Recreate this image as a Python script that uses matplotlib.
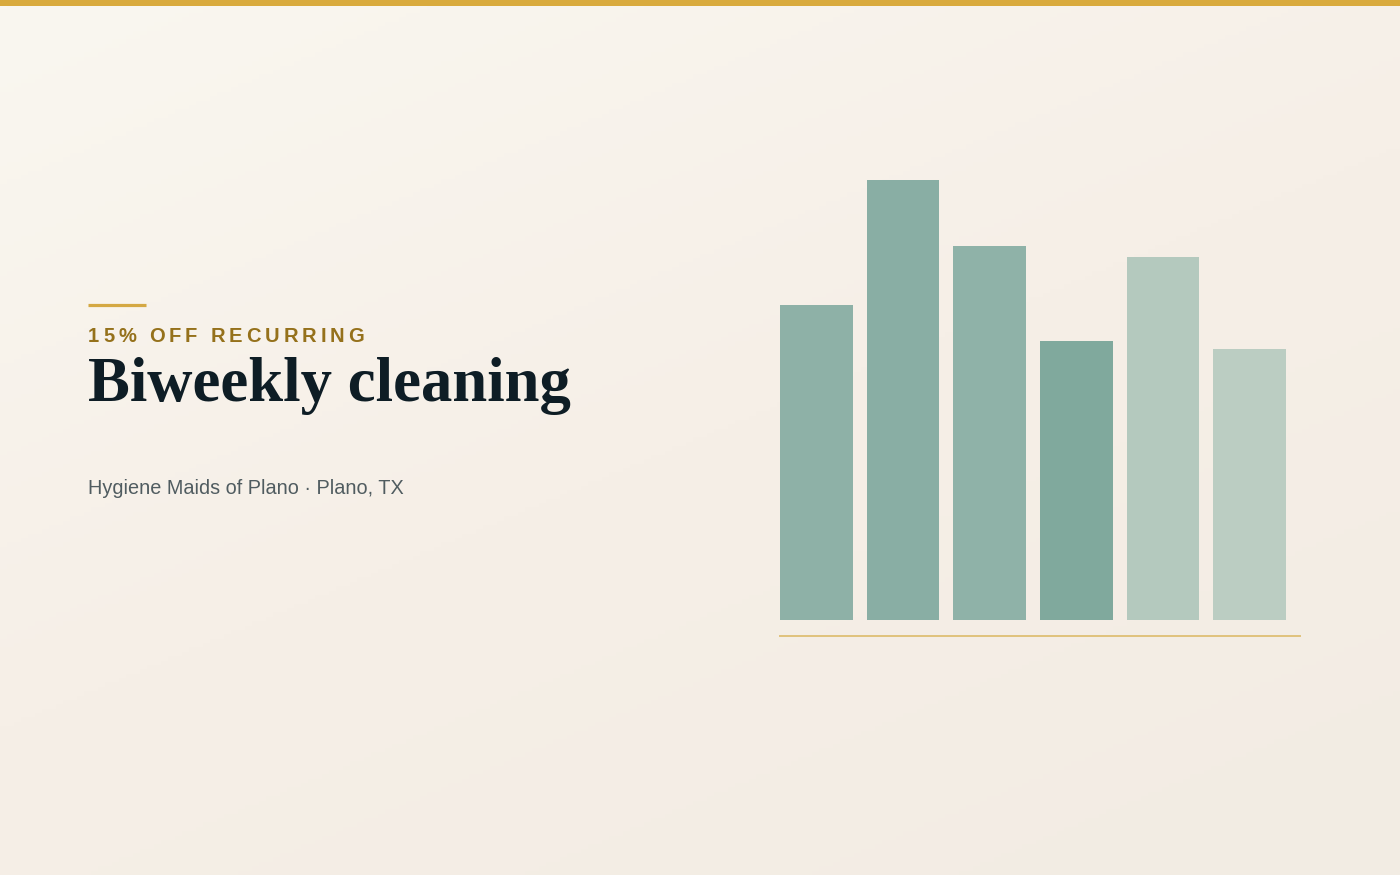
import numpy as np
import matplotlib
matplotlib.use("Agg")
import matplotlib.pyplot as plt
from matplotlib.colors import LinearSegmentedColormap

W, H = 1400, 875

bars = ["1", "2", "3", "4", "5", "6"]
values = [71.5, 100, 85, 63.5, 82.5, 61.5]
bar_colors = ["#8eb1a7", "#89aea4", "#8fb2a8", "#80a99d", "#b4c9be", "#bbcdc2"]

kicker = "15% OFF RECURRING"
title = "Biweekly cleaning"
subtitle = "Hygiene Maids of Plano \u00b7 Plano, TX"


def fx(px):
    return px / W


def fy(py):
    return 1 - py / H


fig = plt.figure(figsize=(14, 8.75), dpi=100)

# background gradient
bg = fig.add_axes([0, 0, 1, 1])
yy, xx = np.mgrid[0:1:200j, 0:1:200j]
grad = 0.6 * yy + 0.4 * xx
cmap = LinearSegmentedColormap.from_list("bg", ["#faf7f0", "#f6efe7", "#f2ece3"])
bg.imshow(grad, cmap=cmap, aspect="auto", extent=[0, 1, 0, 1], origin="upper")
bg.set_xlim(0, 1)
bg.set_ylim(0, 1)
bg.axis("off")

# top gold band
bg.axhspan(fy(6), 1, color="#d9aa3d", lw=0)
# short gold rule above kicker
bg.plot([fx(88), fx(146)], [fy(304.5), fy(304.5)], color="#d4a843", lw=2.3, solid_capstyle="butt")

fig.canvas.draw()
renderer = fig.canvas.get_renderer()

# kicker with letter spacing, drawn char by char
kx = 88
spacing = 3.85
for ch in kicker:
    t = fig.text(fx(kx), fy(342), ch, fontsize=14.5, fontweight="bold",
                 family="Liberation Sans", color="#95711b", va="baseline", ha="left")
    w = t.get_window_extent(renderer).width
    kx += w + spacing

# title: a compromise between the reference width and cap height
t = fig.text(fx(88), fy(401), title, fontsize=43, fontweight="bold",
             family="Liberation Serif", color="#0e1d25", va="baseline", ha="left")
tw = t.get_window_extent(renderer).width
t.set_fontsize(43 * 482 / tw)

fig.text(fx(88), fy(494), subtitle, fontsize=14.3, family="Liberation Sans",
         color="#505c60", va="baseline", ha="left")

# bar chart
px_per_unit = 4.4
ax = fig.add_axes([fx(780), fy(636), fx(1300) - fx(780), (636 - 170) / H])
ax.set_facecolor("none")
x = np.arange(len(bars))
ax.bar(x, values, width=0.84, color=bar_colors, edgecolor="none")
ax.set_xlim(-0.42, 5.58)
ymin = -16 / px_per_unit
ax.set_ylim(ymin, 100 + 10 / px_per_unit)
ax.plot([-0.42, 5.58], [ymin, ymin], color="#e0c27c", lw=1.4, clip_on=False)
ax.axis("off")

fig.savefig("out.png", dpi=100)
